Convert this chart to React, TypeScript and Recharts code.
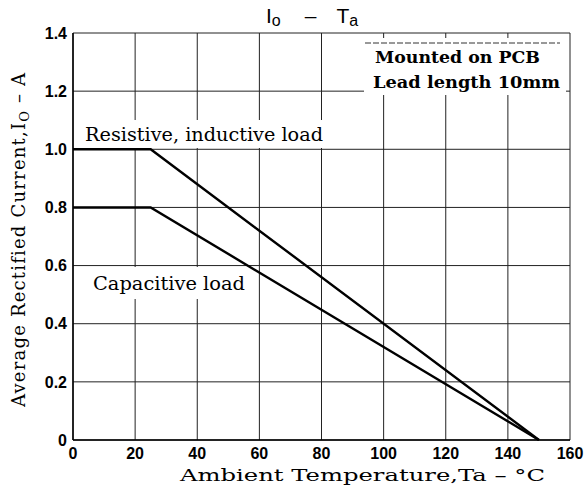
import React from "react";
import { LineChart, Line, XAxis, YAxis, CartesianGrid, Customized } from "recharts";

const temps = [0, 25, 150];
const resistive = [1.0, 1.0, 0];
const capacitive = [0.8, 0.8, 0];
const xTicks = [0, 20, 40, 60, 80, 100, 120, 140, 160];
const yTicks = [0, 0.2, 0.4, 0.6, 0.8, 1.0, 1.2, 1.4];

const data = temps.map((t, i) => ({ t, r: resistive[i], c: capacitive[i] }));

const serif = "'DejaVu Serif', 'Liberation Serif', serif";
const sans = "'Liberation Sans', Arial, sans-serif";

const Annotations = () => (
  <g>
    {/* white backgrounds covering grid */}
    <rect x={364} y={38} width={202} height={57} fill="#fff" />
    <line x1={365} y1={43} x2={560} y2={43} stroke="#333" strokeWidth={1} strokeDasharray="6 2" />
    <rect x={82} y={120} width={244} height={28} fill="#fff" />
    <rect x={88} y={267} width={160} height={32} fill="#fff" />
    <text x={375} y={63} fontFamily={serif} fontSize={17} fontWeight="bold" fill="#000" textLength={165} lengthAdjust="spacingAndGlyphs">Mounted on PCB</text>
    <text x={373} y={88} fontFamily={serif} fontSize={17} fontWeight="bold" fill="#000" textLength={187} lengthAdjust="spacingAndGlyphs">Lead length 10mm</text>
    <text x={85} y={141} fontFamily={serif} fontSize={18} fill="#000" textLength={238} lengthAdjust="spacingAndGlyphs">Resistive, inductive load</text>
    <text x={93} y={290} fontFamily={serif} fontSize={18} fill="#000" textLength={152} lengthAdjust="spacingAndGlyphs">Capacitive load</text>
    {/* title */}
    <text x={266} y={23} fontFamily={sans} fontSize={21} fill="#000">
      I<tspan fontSize={16} dy={3}>o</tspan>
      <tspan dy={-3} dx={24}>–</tspan>
      <tspan dx={20}>T</tspan>
      <tspan fontSize={16} dy={3}>a</tspan>
    </text>
    {/* axis titles */}
    <text x={180} y={481} fontFamily={serif} fontSize={17} fill="#000" textLength={365} lengthAdjust="spacingAndGlyphs">Ambient Temperature,Ta – °C</text>
    <text
      transform="translate(25,407) rotate(-90)"
      x={0}
      y={0}
      fontFamily={serif}
      fontSize={18}
      letterSpacing={1.2}
      fill="#000"
    >
      <tspan>Average Rectified Current,I</tspan>
      <tspan fontSize={13} dy={4}>O</tspan>
      <tspan dy={-4}> – A</tspan>
    </text>
  </g>
);

export default function App() {
  return (
    <div style={{ width: 587, height: 490, overflow: "hidden", background: "#fff" }}>
      <style>{"html,body{margin:0;padding:0;overflow:hidden;}"}</style>
      <LineChart
        width={587}
        height={490}
        data={data}
        margin={{ top: 33, right: 17, left: 28, bottom: 20 }}
      >
        <CartesianGrid stroke="#222" strokeWidth={1} horizontalValues={yTicks} verticalValues={xTicks} />
        <XAxis
          dataKey="t"
          type="number"
          domain={[0, 160]}
          ticks={xTicks}
          tickLine={false}
          axisLine={{ stroke: "#000", strokeWidth: 1.5 }}
          height={30}
          interval={0}
          tick={{ fontFamily: sans, fontSize: 16, fontWeight: "bold", fill: "#000" }}
        />
        <YAxis
          type="number"
          domain={[0, 1.4]}
          ticks={yTicks}
          tickLine={false}
          tickSize={4}
          width={45}
          interval={0}
          axisLine={{ stroke: "#000", strokeWidth: 1.5 }}
          tickFormatter={(v: number) => (v === 0 ? "0" : v.toFixed(1))}
          tick={{ fontFamily: sans, fontSize: 16, fontWeight: "bold", fill: "#000" }}
        />
        <Customized component={Annotations} />
        <Line type="linear" dataKey="r" stroke="#000" strokeWidth={2.4} dot={false} isAnimationActive={false} />
        <Line type="linear" dataKey="c" stroke="#000" strokeWidth={2.4} dot={false} isAnimationActive={false} />
      </LineChart>
    </div>
  );
}
